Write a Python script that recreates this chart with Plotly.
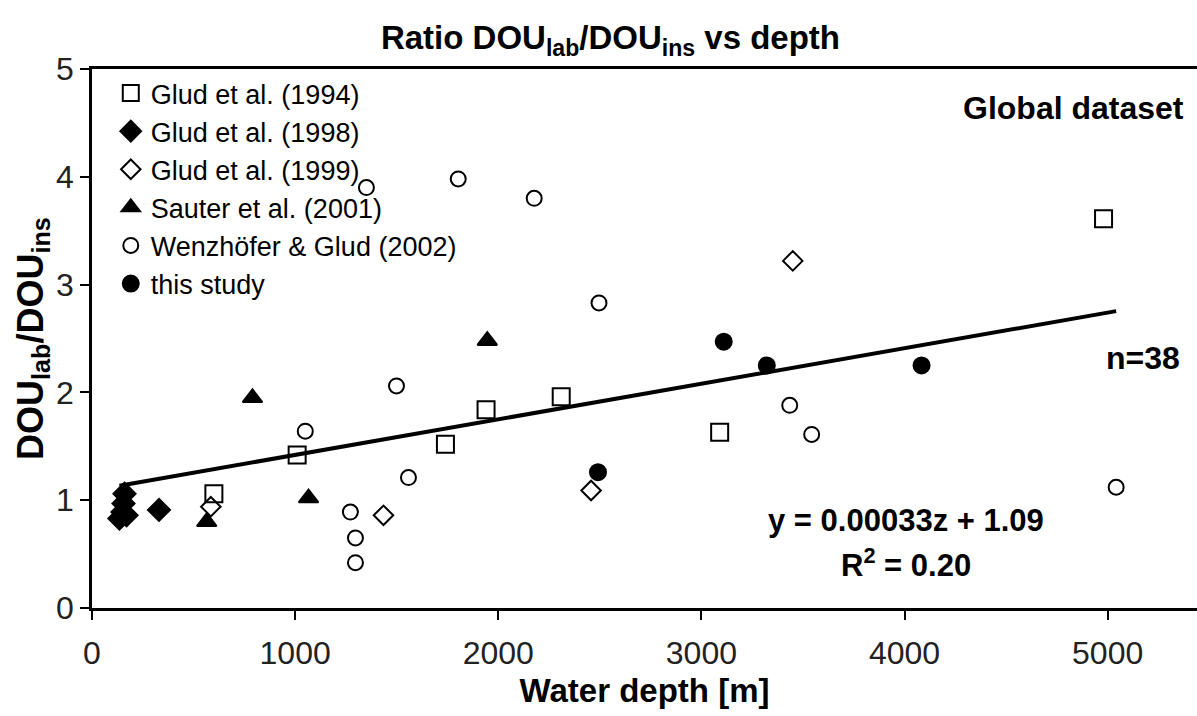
import plotly.graph_objects as go

# ---- data ----
glud94_x = [600, 1010, 1740, 1940, 2310, 3090, 4980]
glud94_y = [1.06, 1.42, 1.52, 1.84, 1.96, 1.63, 3.61]

glud98_x = [160, 155, 150, 170, 135, 330]
glud98_y = [1.06, 0.97, 0.89, 0.86, 0.83, 0.91]

glud99_x = [585, 1435, 2457, 3450]
glud99_y = [0.94, 0.86, 1.09, 3.22]

sauter_x = [565, 790, 1066, 1946]
sauter_y = [0.80, 1.95, 1.02, 2.48]

wenz_x = [1050, 1272, 1297, 1297, 1351, 1499, 1558, 1803, 2177, 2496, 3435, 3543, 5042]
wenz_y = [1.64, 0.89, 0.65, 0.42, 3.90, 2.06, 1.21, 3.98, 3.80, 2.83, 1.88, 1.61, 1.12]

this_x = [2491, 3110, 3322, 4084]
this_y = [1.26, 2.47, 2.25, 2.25]

fit_slope = 0.00033
fit_intercept = 1.09
r_squared = 0.20
n_points = 38

x_ticks = [0, 1000, 2000, 3000, 4000, 5000]
y_ticks = [0, 1, 2, 3, 4, 5]

FONT = "Liberation Sans, Arial, sans-serif"

all_x = glud94_x + glud98_x + glud99_x + sauter_x + wenz_x + this_x
fit_x = [min(all_x), max(all_x)]
fit_y = [fit_slope * v + fit_intercept for v in fit_x]

fig = go.Figure()

series = [
    ("Glud et al. (1994)", glud94_x, glud94_y, "square-open", 17),
    ("Glud et al. (1998)", glud98_x, glud98_y, "diamond", 17),
    ("Glud et al. (1999)", glud99_x, glud99_y, "diamond-open", 15),
    ("Sauter et al. (2001)", sauter_x, sauter_y, "triangle-up", 17),
    ("Wenzhöfer & Glud (2002)", wenz_x, wenz_y, "circle-open", 15),
    ("this study", this_x, this_y, "circle", 16),
]

fig.add_trace(go.Scatter(x=fit_x, y=fit_y, mode="lines",
                         line=dict(color="black", width=4),
                         showlegend=False, hoverinfo="skip"))

for i, (name, xs, ys, sym, sz) in enumerate(series):
    fig.add_trace(go.Scatter(
        x=xs, y=ys, mode="markers", name=name, legendgroup=f"g{i}",
        marker=dict(symbol=sym, size=sz, color="black",
                    line=dict(color="black", width=2)),
    ))

fig.update_layout(
    width=1197, height=716,
    margin=dict(l=92, r=0, t=69, b=108),
    paper_bgcolor="white", plot_bgcolor="white",
    font=dict(family=FONT, color="black"),
    title=dict(text="<b>Ratio DOU<sub>lab</sub>/DOU<sub>ins</sub> vs depth</b>",
               x=0.51, xanchor="center", y=0.947, yanchor="middle",
               font=dict(size=33, family=FONT, color="black")),
    legend=dict(x=0.017, y=1.0, xanchor="left", yanchor="top",
                bgcolor="rgba(0,0,0,0)", font=dict(size=27, family=FONT),
                tracegroupgap=0, itemwidth=30),
    showlegend=True,
)

fig.update_xaxes(
    range=[0, 5440], tickvals=x_ticks, ticks="outside", ticklen=9, tickwidth=1.5,
    tickcolor="black", showline=True, linecolor="black", linewidth=2.5,
    mirror=True, showgrid=False, zeroline=False, ticklabelstandoff=6,
    tickfont=dict(size=32, family=FONT, color="#222"),
    title=dict(text="<b>Water depth [m]</b>", font=dict(size=33, family=FONT), standoff=9),
)
fig.update_yaxes(
    range=[0, 5], tickvals=y_ticks, ticks="outside", ticklen=9, tickwidth=1.5,
    tickcolor="black", showline=True, linecolor="black", linewidth=2.5,
    mirror=False, showgrid=False, zeroline=False,
    tickfont=dict(size=32, family=FONT, color="#222"),
    title=dict(text="<b>DOU<sub>lab</sub>/DOU<sub>ins</sub></b>", font=dict(size=36, family=FONT), standoff=2),
)

fig.add_annotation(text="<b>Global dataset</b>", xref="paper", yref="y",
                   x=0.99, y=4.64, xanchor="right", yanchor="middle",
                   showarrow=False, font=dict(size=32, family=FONT))
fig.add_annotation(text=f"<b>n={n_points}</b>", xref="x", yref="y",
                   x=5172, y=2.32, xanchor="center", yanchor="middle",
                   showarrow=False, font=dict(size=32, family=FONT))
fig.add_annotation(text=f"<b>y = {fit_slope:.5f}z + {fit_intercept:.2f}</b>", xref="x", yref="y",
                   x=4006, y=0.815, xanchor="center", yanchor="middle",
                   showarrow=False, font=dict(size=31, family=FONT))
fig.add_annotation(text=f"<b>R<sup>2</sup> = {r_squared:.2f}</b>", xref="x", yref="y",
                   x=4006, y=0.42, xanchor="center", yanchor="middle",
                   showarrow=False, font=dict(size=31, family=FONT))

fig.write_html("out.html")
